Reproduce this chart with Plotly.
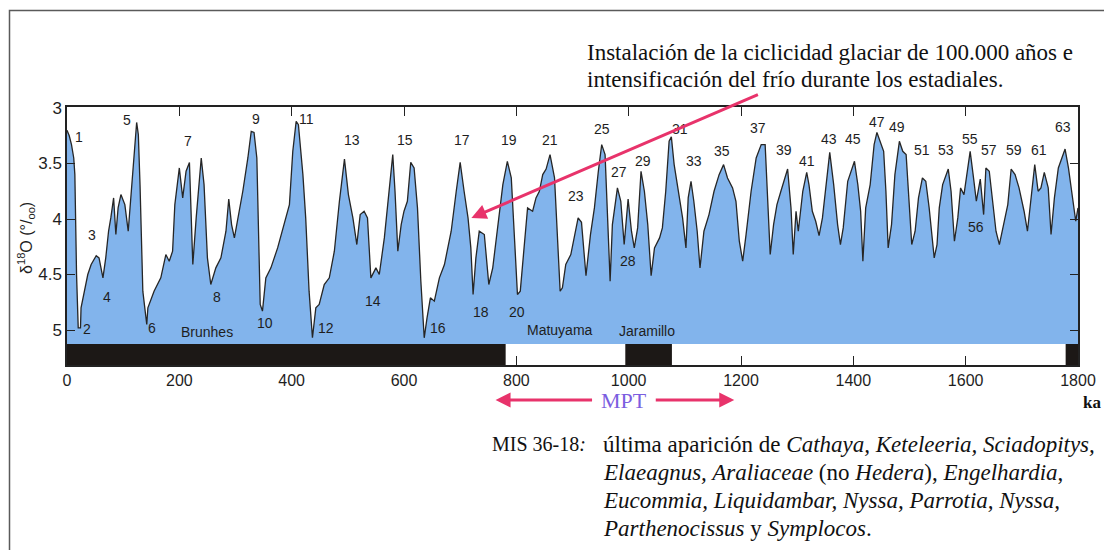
import plotly.graph_objects as go

# ---------------- data ----------------
age_ka = [0, 4, 8, 12, 14, 17, 20, 24, 25, 31, 37, 43, 52, 57, 64, 69, 74, 78, 83, 87,
          91, 96, 103, 109, 115, 120, 124, 127, 130, 135, 139, 142, 144, 155, 167, 176, 182, 188, 192, 200,
          206, 212, 218, 224, 230, 239, 244, 250, 256, 265, 274, 283, 288, 293, 298, 305, 313, 322, 328, 333,
          338, 344, 348, 354, 363, 375, 387, 396, 402, 408, 412, 420, 425, 431, 437, 443, 449, 458, 467, 476,
          485, 494, 501, 509, 516, 522, 529, 535, 541, 550, 556, 565, 571, 580, 584, 589, 595, 600, 606, 612,
          618, 624, 630, 636, 641, 647, 654, 663, 672, 684, 693, 700, 707, 714, 719, 723, 728, 734, 743, 751,
          758, 767, 776, 784, 791, 797, 802, 807, 814, 820, 829, 835, 841, 847, 853, 860, 868, 874, 878, 882,
          888, 897, 903, 910, 916, 924, 932, 939, 946, 952, 958, 963, 967, 971, 980, 986, 992, 999, 1005, 1010,
          1016, 1022, 1028, 1034, 1040, 1046, 1055, 1060, 1066, 1072, 1076, 1081, 1088, 1096, 1102, 1106, 1111, 1116, 1122, 1127,
          1134, 1143, 1152, 1161, 1169, 1176, 1185, 1191, 1197, 1203, 1209, 1218, 1227, 1236, 1243, 1247, 1252, 1258, 1264, 1271,
          1277, 1283, 1289, 1293, 1298, 1302, 1310, 1317, 1321, 1327, 1333, 1339, 1345, 1351, 1358, 1365, 1372, 1377, 1382, 1390,
          1396, 1402, 1408, 1413, 1417, 1422, 1430, 1437, 1442, 1449, 1454, 1458, 1462, 1468, 1474, 1482, 1488, 1494, 1500, 1504,
          1510, 1516, 1523, 1529, 1535, 1541, 1544, 1549, 1553, 1559, 1565, 1569, 1574, 1580, 1586, 1591, 1597, 1603, 1608, 1614,
          1619, 1626, 1632, 1636, 1642, 1648, 1654, 1660, 1666, 1675, 1681, 1688, 1695, 1704, 1710, 1716, 1723, 1729, 1734, 1740,
          1747, 1752, 1758, 1765, 1771, 1777, 1783, 1790, 1796, 1800]

d18o = [3.2, 3.25, 3.33, 3.45, 3.6, 4.5, 4.98, 4.98, 4.8, 4.65, 4.5, 4.41, 4.33, 4.35, 4.53, 4.35, 4.11, 3.99, 3.81, 4.14,
        3.9, 3.78, 3.87, 4.11, 3.69, 3.33, 3.13, 3.24, 3.69, 4.65, 4.83, 4.95, 4.8, 4.65, 4.53, 4.32, 4.38, 4.29, 3.87, 3.54,
        3.81, 3.57, 3.49, 4.41, 3.99, 3.45, 3.69, 4.35, 4.59, 4.44, 4.35, 4.11, 3.82, 4.05, 4.17, 3.99, 3.75, 3.45, 3.21, 3.22,
        3.45, 4.77, 4.83, 4.53, 4.44, 4.26, 4.05, 3.87, 3.39, 3.12, 3.15, 3.6, 3.99, 4.65, 5.07, 4.8, 4.77, 4.59, 4.53, 4.29,
        3.84, 3.46, 3.78, 3.99, 4.23, 3.96, 3.93, 3.99, 4.53, 4.44, 4.5, 4.17, 3.87, 3.42, 3.75, 4.29, 4.05, 3.93, 3.84, 3.49,
        3.54, 3.9, 4.56, 5.07, 4.89, 4.71, 4.74, 4.53, 4.41, 4.11, 3.75, 3.49, 3.75, 3.99, 4.26, 4.68, 4.35, 4.11, 4.14, 4.59,
        4.44, 4.05, 3.69, 3.48, 3.63, 4.2, 4.68, 4.65, 4.2, 3.9, 3.93, 3.81, 3.75, 3.6, 3.55, 3.42, 3.63, 4.2, 4.65, 4.62,
        4.41, 4.32, 4.17, 3.99, 4.03, 4.51, 4.14, 3.9, 3.57, 3.33, 3.42, 4.05, 4.56, 4.05, 3.72, 3.84, 4.23, 3.82, 4.11, 4.26,
        4.08, 3.57, 3.75, 4.05, 4.51, 4.26, 4.17, 4.08, 3.75, 3.3, 3.26, 3.51, 3.75, 3.99, 4.26, 3.81, 3.66, 3.84, 4.11, 4.44,
        4.11, 3.96, 3.75, 3.6, 3.51, 3.63, 3.72, 3.84, 4.2, 4.38, 4.14, 3.75, 3.45, 3.33, 3.33, 3.75, 4.32, 4.05, 3.87, 3.75,
        3.66, 3.55, 3.9, 4.32, 3.93, 4.11, 3.75, 3.58, 3.69, 3.93, 4.02, 4.15, 3.99, 3.69, 3.4, 3.69, 4.05, 4.23, 4.08, 3.66,
        3.57, 3.48, 3.69, 3.93, 4.38, 3.9, 3.69, 3.33, 3.22, 3.33, 3.39, 3.75, 4.26, 4.05, 3.6, 3.3, 3.39, 3.42, 3.9, 4.23,
        4.11, 3.81, 3.63, 3.66, 3.9, 4.23, 4.35, 4.23, 3.9, 3.69, 3.6, 3.55, 3.75, 4.2, 3.99, 3.72, 3.78, 3.57, 3.39, 3.63,
        3.84, 3.64, 3.96, 3.54, 3.57, 3.84, 4.11, 4.23, 4.08, 3.87, 3.55, 3.6, 3.72, 3.93, 4.11, 3.81, 3.51, 3.75, 3.72, 3.58,
        3.72, 4.14, 3.81, 3.54, 3.45, 3.37, 3.54, 3.78, 4.02, 3.9]

mis_labels = ["1", "2", "3", "4", "5", "6", "7", "8", "9", "10", "11", "12", "13", "14", "15", "16", "17", "18",
              "19", "20", "21", "23", "25", "27", "28", "29", "31", "33", "35", "37", "39", "41", "43", "45",
              "47", "49", "51", "53", "55", "56", "57", "59", "61", "63"]
mis_age = [21, 36, 44, 71, 106, 151, 216, 267, 336, 353, 426, 461, 507, 545, 601, 660, 703, 737,
           787, 802, 860, 907, 953, 983, 998, 1025, 1091, 1116, 1166, 1231, 1277, 1317, 1357, 1399,
           1442, 1478, 1522, 1565, 1608, 1618, 1642, 1686, 1731, 1774]
mis_val = [3.26, 4.99, 4.14, 4.70, 3.11, 4.98, 3.30, 4.70, 3.10, 4.94, 3.10, 4.98, 3.29, 4.74, 3.29, 4.98, 3.29, 4.84,
           3.29, 4.84, 3.29, 3.79, 3.19, 3.58, 4.38, 3.48, 3.19, 3.48, 3.39, 3.18, 3.38, 3.48, 3.28, 3.28,
           3.13, 3.17, 3.38, 3.38, 3.28, 4.07, 3.38, 3.38, 3.38, 3.17]

# normal-polarity (black) intervals of the magnetic scale, ka
normal_start = [0, 994, 1778]
normal_end = [781, 1077, 1800]
chron_names = ["Brunhes", "Matuyama", "Jaramillo"]
chron_age = [249, 878, 1033]
chron_val = [5.02, 5.0, 5.01]

x_ticks = [0, 200, 400, 600, 800, 1000, 1200, 1400, 1600, 1800]
y_ticks = [3, 3.5, 4, 4.5, 5]
y_ticktext = ["3", "3.5", "4", "4.5", "5"]

Y_TOP = 2.991
Y_BOTTOM = 5.315
BASE = 5.126          # top of the magnetic polarity bar

# ---------------- layout geometry (pixels of the reference picture) ----------------
OFF = 8               # the page body adds an 8 px margin
W, H = 1112 - OFF, 550 - OFF
PL, PR, PT, PB = 67, 1078, 107, 365


def pxx(px):
    return (px - PL) / (PR - PL)


def pxy(py):
    return (PB - py) / (PB - PT)


SANS = "Liberation Sans, Arial, sans-serif"
SERIF = "Liberation Serif, Times New Roman, serif"
BLUE = "#82b4ec"
PINK = "#e8336b"

fig = go.Figure()
fig.add_trace(go.Scatter(x=age_ka, y=[BASE] * len(age_ka), mode="lines",
                         line=dict(width=0, color=BLUE), hoverinfo="skip", showlegend=False))
fig.add_trace(go.Scatter(x=age_ka, y=d18o, mode="lines", fill="tonexty", fillcolor=BLUE,
                         line=dict(color="#262626", width=1.3), showlegend=False))

shapes = []
for s, e in zip(normal_start, normal_end):
    shapes.append(dict(type="rect", xref="x", yref="y", x0=s, x1=e, y0=BASE, y1=Y_BOTTOM,
                       fillcolor="#1c1816", line=dict(width=0), layer="above"))
# outer frame of the figure
shapes.append(dict(type="path", xref="paper", yref="paper",
                   path=f"M {pxx(9.5)} {pxy(560)} L {pxx(9.5)} {pxy(10.5)} L {pxx(1106)} {pxy(10.5)} L {pxx(1106)} {pxy(560)}",
                   line=dict(color="#5a5a5a", width=1.5)))


def note(x, y, text, size, family=SERIF, color="#111", xanchor="center", **kw):
    return dict(x=x, y=y, xref="paper", yref="paper", text=text, showarrow=False,
                xanchor=xanchor, yanchor="middle", font=dict(family=family, size=size, color=color), **kw)


annotations = []
for t, a, v in zip(mis_labels, mis_age, mis_val):
    annotations.append(dict(x=a, y=v, xref="x", yref="y", text=t, showarrow=False,
                            xanchor="center", yanchor="middle",
                            font=dict(family=SANS, size=14, color="#1e1e1e")))
for t, a, v in zip(chron_names, chron_age, chron_val):
    annotations.append(dict(x=a, y=v, xref="x", yref="y", text=t, showarrow=False,
                            xanchor="center", yanchor="middle",
                            font=dict(family=SANS, size=14, color="#1e1e1e")))

# y-axis title
annotations.append(note(pxx(26), pxy(238), "δ<sup>18</sup>O (°/<sub>oo</sub>)", 16,
                        family=SANS, color="#1e1e1e", textangle=-90))
# ka
annotations.append(note(pxx(1092), pxy(402), "<b>ka</b>", 17))

# pink arrow to the 100 ka cyclicity onset
annotations.append(dict(x=720, y=3.99, xref="x", yref="y", text="", showarrow=True,
                        ax=288, ay=-124, arrowcolor=PINK, arrowwidth=3, arrowhead=2, arrowsize=1))
annotations.append(note(pxx(585), pxy(52), "Instalación de la ciclicidad glaciar de 100.000 años e", 23,
                        xanchor="left"))
annotations.append(note(pxx(585), pxy(79), "intensificación del frío durante los estadiales.", 23,
                        xanchor="left"))

# MPT arrow
annotations.append(dict(x=763, y=pxy(400), xref="x", yref="paper", text="", showarrow=True,
                        ax=98, ay=0, arrowcolor=PINK, arrowwidth=3, arrowhead=2, arrowsize=1))
annotations.append(dict(x=1188, y=pxy(400), xref="x", yref="paper", text="", showarrow=True,
                        ax=-80, ay=0, arrowcolor=PINK, arrowwidth=3, arrowhead=2, arrowsize=1))
annotations.append(dict(x=992, y=pxy(400), xref="x", yref="paper", text="MPT", showarrow=False,
                        xanchor="center", yanchor="middle",
                        font=dict(family=SERIF, size=22, color="#7b5ee0")))

# bottom note
annotations.append(note(pxx(490), pxy(444), "MIS 36-18<i>:</i>", 20, xanchor="left"))
note_lines = [
    "última aparición de <i>Cathaya, Keteleeria, Sciadopitys,</i>",
    "<i>Elaeagnus, Araliaceae</i> (no <i>Hedera</i>), <i>Engelhardia</i>,",
    "<i>Eucommia, Liquidambar, Nyssa, Parrotia, Nyssa,</i>",
    "<i>Parthenocissus</i> y <i>Symplocos</i>.",
]
note_y = [444, 472, 500, 528]
for t, yy in zip(note_lines, note_y):
    annotations.append(note(pxx(601), pxy(yy), t, 23, xanchor="left"))

fig.update_layout(
    width=W, height=H,
    margin=dict(l=PL - OFF, r=(W + OFF) - PR, t=PT - OFF, b=(H + OFF) - PB, pad=0),
    paper_bgcolor="white", plot_bgcolor="white",
    shapes=shapes, annotations=annotations, showlegend=False,
    xaxis=dict(range=[0, 1800], tickvals=x_ticks, ticks="inside", ticklen=9, tickwidth=1.2,
               tickcolor="#222", showline=True, linecolor="#222", linewidth=1.5, mirror="ticks",
               showgrid=False, zeroline=False,
               tickfont=dict(family=SANS, size=16, color="#1e1e1e")),
    yaxis=dict(range=[Y_BOTTOM, Y_TOP], tickvals=y_ticks, ticktext=y_ticktext, ticks="inside",
               ticklen=8, tickwidth=1.2, tickcolor="#222", showline=True, linecolor="#222",
               linewidth=1.5, mirror="ticks", showgrid=False, zeroline=False,
               tickfont=dict(family=SANS, size=17, color="#1e1e1e")),
)

fig.write_html("out.html")
